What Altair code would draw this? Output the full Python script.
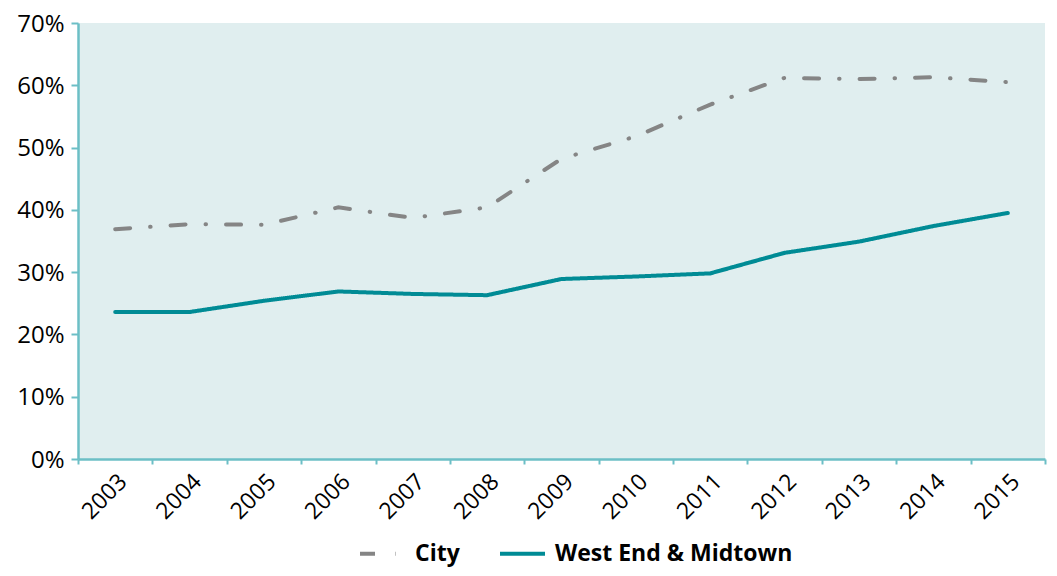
import altair as alt
import pandas as pd

years = [str(y) for y in range(2003, 2016)]
city = [0.369, 0.377, 0.376, 0.404, 0.387, 0.404, 0.482, 0.518, 0.569, 0.612, 0.610, 0.613, 0.605]
west_end = [0.236, 0.236, 0.254, 0.269, 0.265, 0.263, 0.289, 0.293, 0.298, 0.331, 0.349, 0.374, 0.395]
series_names = ["City", "West End & Midtown"]

rows = []
for i, y in enumerate(years):
    rows.append({"year": y, "series": series_names[0], "value": city[i]})
    rows.append({"year": y, "series": series_names[1], "value": west_end[i]})
df = pd.DataFrame(rows)

FONT = "Open Sans"
AXIS_COLOR = "#6cbfc6"

chart = alt.Chart(df).mark_line(strokeWidth=4, strokeCap="round").encode(
    x=alt.X("year:O", bandPosition=0.5,
            scale=alt.Scale(type="band", paddingInner=0, paddingOuter=0),
            axis=alt.Axis(title=None, labelAngle=-45, tickBand="extent",
                          labelFontSize=23, labelFont=FONT, labelColor="#000000",
                          domainColor=AXIS_COLOR, domainWidth=2.5, tickColor=AXIS_COLOR,
                          tickWidth=2, tickSize=5, labelPadding=6, grid=False)),
    y=alt.Y("value:Q", scale=alt.Scale(domain=[0, 0.7], nice=False),
            axis=alt.Axis(title=None, format=".0%", values=[0, 0.1, 0.2, 0.3, 0.4, 0.5, 0.6, 0.7],
                          labelFontSize=24, labelFont=FONT, labelColor="#000000", labelOffset=1,
                          domainColor=AXIS_COLOR, domainWidth=2.5, tickColor=AXIS_COLOR,
                          tickWidth=2, tickSize=7, labelPadding=7, grid=False)),
    color=alt.Color("series:N", scale=alt.Scale(domain=series_names, range=["#858585", "#008b95"]),
                    legend=alt.Legend(title=None, orient="none", legendX=280, legendY=506,
                                      direction="horizontal", labelFontSize=23, labelFont=FONT,
                                      labelFontWeight="bold", labelColor="#000000", labelLimit=500,
                                      symbolType="stroke", symbolStrokeWidth=4, symbolSize=2025,
                                      columnPadding=32, labelOffset=8)),
    strokeDash=alt.StrokeDash("series:N",
                              scale=alt.Scale(domain=series_names, range=[[15, 20, 0.5, 20], [1, 0]]),
                              legend=None),
).properties(
    width=967, height=436,
    autosize=alt.AutoSizeParams(type="none"),
    padding={"left": 70, "top": 15, "right": 4, "bottom": 109},
).configure_view(fill="#e0eeef", stroke=None)

chart.save("out.html", embed_options={"renderer": "svg", "actions": False})
